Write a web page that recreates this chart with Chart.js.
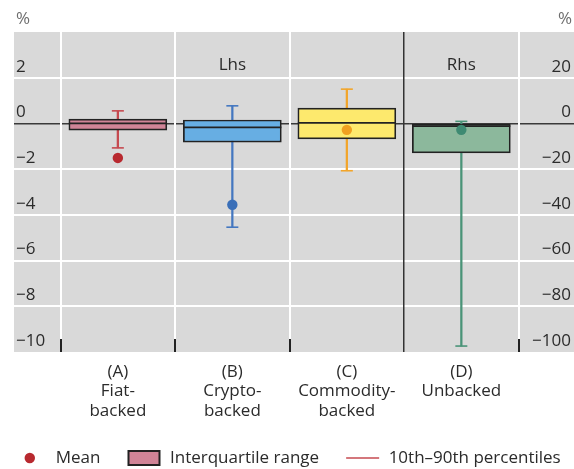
<!DOCTYPE html>
<html>
<head>
<meta charset="utf-8">
<script src="https://cdn.jsdelivr.net/npm/chart.js@4/dist/chart.umd.min.js"></script>
<style>
  html, body { margin: 0; padding: 0; background: #fff; }
  canvas { display: block; }
</style>
</head>
<body>
<canvas id="chart" width="574" height="469"></canvas>
<script>
// Stablecoin categories along the horizontal axis
const categories = [
  ['(A)', 'Fiat-', 'backed'],
  ['(B)', 'Crypto-', 'backed'],
  ['(C)', 'Commodity-', 'backed'],
  ['(D)', 'Unbacked']
];

// Left-hand panel (A–C), per cent
const lhsP10    = [-1.07, -4.54, -2.07];
const lhsQ1     = [-0.29, -0.82, -0.68];
const lhsMedian = [0.0, -0.17, 0.02];
const lhsQ3     = [0.19, 0.15, 0.67];
const lhsP90    = [0.55, 0.77, 1.5];
const lhsMean   = [-1.51, -3.56, -0.28];

// Right-hand panel (D), per cent
const rhsP10    = [-97.4];
const rhsQ1     = [-12.9];
const rhsMedian = [-1.2];
const rhsQ3     = [-0.3];
const rhsP90    = [0.9];
const rhsMean   = [-2.8];

// Axis ranges and tick steps
const lhsRange = [-10, 4];
const lhsStep = 2;
const rhsRange = [-100, 40];
const rhsStep = 20;

const panelNames = ['Lhs', 'Rhs'];
const unitLabel = '%';
const legendLabels = ['Mean', 'Interquartile range', '10th\u201390th percentiles'];

// ---- styles ----
const FONT = "'Open Sans', sans-serif";
const TEXT = '#2b2b2b';
const boxFill   = ['#d08497', '#67aee3', '#fde96d', '#8cb89c'];
const whiskerCl = ['#c64a50', '#4477c0', '#f2a52a', '#4a9478'];
const meanCl    = ['#b8292f', '#3a6fb8', '#f0a020', '#3e8a72'];
const OUTLINE = '#222222';
const BOX_W = 98;

const nL = lhsMean.length;
const nR = rhsMean.length;
const lhsIdx = lhsMean.map((_, i) => i);
const rhsIdx = rhsMean.map((_, i) => nL + i);

const pts = (idx, vals) => vals.map((v, i) => ({ x: idx[i], y: v }));
const bars = (idx, lo, hi) => lo.map((v, i) => ({ x: idx[i], y: [v, hi[i]] }));
const minus = v => (v < 0 ? '\u2212' + Math.abs(v) : String(v));
const tickVal = c => (c && c.tick ? c.tick.value : null);

// Category boundaries (gridlines) and the panel divider
const boundaries = categories.map((_, i) => i - 0.5).concat([categories.length - 0.5]);
const divider = nL - 0.5;
const xMin = -0.907, xMax = 3.984;

// Axes sit flush with the plot: labels are mirrored inside it
const flushY = s => { s.width = 0; s.paddingTop = 0; s.paddingBottom = 0; };
const flushX = h => s => { s.height = h; s.paddingLeft = 0; s.paddingRight = 0; };

function datasetsFor(idx, p10, q1, med, q3, p90, mean, axis, off) {
  const cols = arr => idx.map((_, i) => arr[off + i]);
  return [
    { type: 'bar', data: bars(idx, p10, p90), yAxisID: axis, xAxisID: 'x',
      backgroundColor: cols(whiskerCl), barThickness: 1.6, grouped: false, order: 5 },
    { type: 'scatter', data: pts(idx, p10).concat(pts(idx, p90)), yAxisID: axis, xAxisID: 'x',
      pointStyle: 'line', pointRadius: 6, pointHoverRadius: 6, pointBorderWidth: 1.6,
      pointBorderColor: cols(whiskerCl).concat(cols(whiskerCl)), order: 4 },
    { type: 'bar', data: bars(idx, q1, q3), yAxisID: axis, xAxisID: 'x',
      backgroundColor: cols(boxFill), borderColor: OUTLINE, borderWidth: 1.7,
      borderSkipped: false, barThickness: BOX_W, grouped: false, order: 3 },
    { type: 'scatter', data: pts(idx, med), yAxisID: axis, xAxisID: 'x',
      pointStyle: 'line', pointRadius: BOX_W / 2, pointHoverRadius: BOX_W / 2,
      pointBorderWidth: 1.8, pointBorderColor: OUTLINE, order: 2 },
    { type: 'scatter', data: pts(idx, mean), yAxisID: axis, xAxisID: 'x',
      pointStyle: 'circle', pointRadius: 5.2, pointHoverRadius: 5.2, pointBorderWidth: 0,
      pointBackgroundColor: cols(meanCl), order: 1 }
  ];
}

const backdrop = {
  id: 'backdrop',
  beforeDraw(chart) {
    const { ctx, chartArea: a } = chart;
    ctx.save();
    ctx.fillStyle = '#d9d9d9';
    ctx.fillRect(a.left, a.top, a.right - a.left, a.bottom - a.top);
    ctx.restore();
  }
};

const extras = {
  id: 'extras',
  afterDraw(chart) {
    const { ctx, chartArea: a, scales } = chart;
    const x = scales.x, y = scales.y;
    ctx.save();

    // short tick marks rising from the bottom edge
    ctx.strokeStyle = OUTLINE;
    ctx.lineWidth = 2;
    boundaries.forEach(b => {
      if (b === divider) return;
      const px = Math.round(x.getPixelForValue(b));
      ctx.beginPath();
      ctx.moveTo(px, a.bottom - 13);
      ctx.lineTo(px, a.bottom);
      ctx.stroke();
    });

    // panel names
    ctx.font = '17px ' + FONT;
    ctx.fillStyle = TEXT;
    ctx.textAlign = 'center';
    ctx.textBaseline = 'middle';
    const py = y.getPixelForValue(2) - 13;
    ctx.fillText(panelNames[0], x.getPixelForValue((nL - 1) / 2), py);
    ctx.fillText(panelNames[1], x.getPixelForValue(nL + (nR - 1) / 2), py);

    // unit labels above both axes
    ctx.fillStyle = '#6e6e6e';
    ctx.textAlign = 'left';
    ctx.fillText(unitLabel, a.left + 2, a.top - 13);
    ctx.textAlign = 'right';
    ctx.fillText(unitLabel, chart.width - 2, a.top - 13);

    // legend
    const markW = 33, gapText = 9.5, gapItem = 27, ly = 458;
    ctx.font = '17px ' + FONT;
    const widths = legendLabels.map(t => ctx.measureText(t).width);
    const total = widths.reduce((s, w) => s + w + markW + gapText, 0) + gapItem * (legendLabels.length - 1);
    let cx = (chart.width - total) / 2;
    legendLabels.forEach((t, i) => {
      const mid = cx + markW / 2;
      if (i === 0) {
        ctx.fillStyle = meanCl[0];
        ctx.beginPath();
        ctx.arc(mid, ly, 5.2, 0, Math.PI * 2);
        ctx.fill();
      } else if (i === 1) {
        ctx.fillStyle = boxFill[0];
        ctx.fillRect(cx + 1, ly - 7, markW - 2, 14);
        ctx.strokeStyle = OUTLINE;
        ctx.lineWidth = 2;
        ctx.strokeRect(cx + 1, ly - 7, markW - 2, 14);
      } else {
        ctx.strokeStyle = whiskerCl[0];
        ctx.lineWidth = 1.6;
        ctx.beginPath();
        ctx.moveTo(cx, ly);
        ctx.lineTo(cx + markW, ly);
        ctx.stroke();
      }
      ctx.fillStyle = TEXT;
      ctx.textAlign = 'left';
      ctx.textBaseline = 'middle';
      ctx.fillText(t, cx + markW + gapText, ly);
      cx += markW + gapText + widths[i] + gapItem;
    });
    ctx.restore();
  }
};

Chart.defaults.font.family = FONT;
Chart.defaults.font.size = 17;
Chart.defaults.color = TEXT;

new Chart(document.getElementById('chart'), {
  type: 'bar',
  data: {
    datasets: [
      ...datasetsFor(lhsIdx, lhsP10, lhsQ1, lhsMedian, lhsQ3, lhsP90, lhsMean, 'y', 0),
      ...datasetsFor(rhsIdx, rhsP10, rhsQ1, rhsMedian, rhsQ3, rhsP90, rhsMean, 'y2', nL)
    ]
  },
  options: {
    responsive: false,
    animation: false,
    devicePixelRatio: 1,
    layout: { autoPadding: false, padding: { left: 14, right: 0, top: 32, bottom: 0 } },
    plugins: { legend: { display: false }, tooltip: { enabled: false } },
    scales: {
      y: {
        type: 'linear', position: 'left',
        min: lhsRange[0], max: lhsRange[1],
        border: { display: false, color: 'rgba(0,0,0,0)', width: 0 },
        grid: {
          drawTicks: false,
          color: c => {
            const v = tickVal(c);
            if (v === 0) return '#3a3a3a';
            if (v === null || v === lhsRange[0] || v === lhsRange[1]) return 'rgba(0,0,0,0)';
            return '#ffffff';
          },
          lineWidth: c => (tickVal(c) === 0 ? 1.5 : 2)
        },
        ticks: {
          stepSize: lhsStep, mirror: true, padding: 2, labelOffset: -11,
          color: TEXT, font: { size: 17 },
          callback: v => (v === lhsRange[1] ? '' : minus(v))
        },
        afterFit: flushY
      },
      y2: {
        type: 'linear', position: 'right',
        min: rhsRange[0], max: rhsRange[1],
        border: { display: false, color: 'rgba(0,0,0,0)', width: 0 },
        grid: { display: false, drawTicks: false },
        ticks: {
          stepSize: rhsStep, mirror: true, padding: -3, labelOffset: -11,
          color: TEXT, font: { size: 17 },
          callback: v => (v === rhsRange[1] ? '' : minus(v))
        },
        afterFit: flushY
      },
      x: {
        type: 'linear', position: 'bottom', offset: false,
        min: xMin, max: xMax,
        border: { display: false, color: 'rgba(0,0,0,0)', width: 0 },
        grid: {
          offset: false,
          drawTicks: false,
          color: c => (tickVal(c) === divider ? '#333333' : '#ffffff'),
          lineWidth: c => (tickVal(c) === divider ? 1.5 : 2)
        },
        ticks: { display: false },
        afterBuildTicks: s => { s.ticks = boundaries.map(v => ({ value: v })); },
        afterFit: flushX(0)
      },
      x2: {
        type: 'linear', position: 'bottom', offset: false,
        min: xMin, max: xMax,
        border: { display: false, color: 'rgba(0,0,0,0)', width: 0 },
        grid: { display: false, offset: false, drawTicks: false },
        ticks: {
          autoSkip: false, maxRotation: 0, padding: 10,
          color: TEXT, font: { size: 17, lineHeight: 1.15 },
          callback: v => categories[Math.round(v)]
        },
        afterBuildTicks: s => { s.ticks = categories.map((_, i) => ({ value: i })); },
        afterFit: flushX(117)
      }
    }
  },
  plugins: [backdrop, extras]
});
</script>
</body>
</html>
